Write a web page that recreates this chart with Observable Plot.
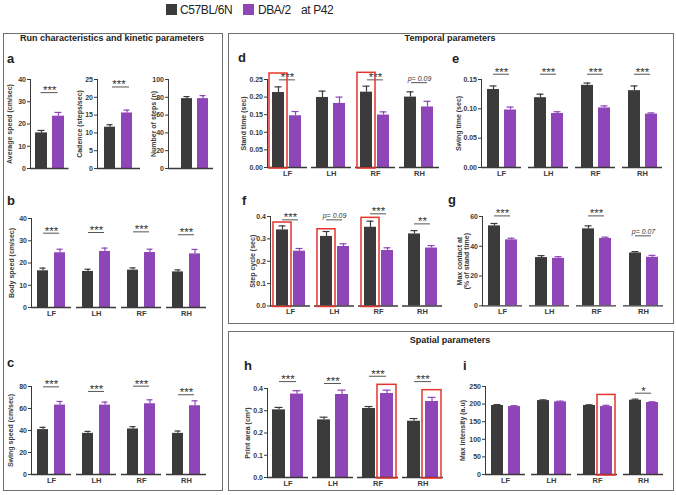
<!DOCTYPE html>
<html><head><meta charset="utf-8">
<script src="https://cdn.jsdelivr.net/npm/d3@7"></script>
<script src="https://cdn.jsdelivr.net/npm/@observablehq/plot@0.6"></script>
<style>
body{margin:0;background:#fff}
#page{position:relative;width:676px;height:495px;overflow:hidden;font-family:"Liberation Sans",Arial,sans-serif;color:#222;background:#fff}
.abs{position:absolute;white-space:nowrap;line-height:1}
.box{position:absolute;border:1.3px solid #707070;box-sizing:border-box}
.title{font-weight:bold;font-size:9px;transform:translateX(-50%)}
.letter{font-weight:bold;font-size:13px}
.sq{position:absolute;width:11px;height:11px}
.leg{font-size:12px;letter-spacing:-0.4px}
svg [aria-label="fx-axis tick label"]{font-size:7.5px}
</style>
</head><body><div id="page"></div>
<script>
// ---------- data ----------
const strains = ["C57BL/6N", "DBA/2"];
const legs = ["LF", "LH", "RF", "RH"];
const colors = ["#3b3b3b", "#8e45b7"];

// a: run characteristics
const avgSpeed = [16.0, 23.5];
const avgSpeedErr = [1.1, 1.7];
const avgSpeedSig = ["***"];
const avgSpeedSigY = [34.1];
const avgSpeedTicks = [0, 10, 20, 30, 40];

const cadence = [11.6, 15.6];
const cadenceErr = [0.7, 0.8];
const cadenceSig = ["***"];
const cadenceSigY = [22.9];
const cadenceTicks = [0, 5, 10, 15, 20, 25];

const numSteps = [78.5, 78.5];
const numStepsErr = [2.3, 3.4];
const numStepsSig = [];
const numStepsSigY = [];
const numStepsTicks = [0, 20, 40, 60, 80, 100];

// b: body speed
const bodySpeedB6 = [16.5, 16.2, 16.8, 16.0];
const bodySpeedB6Err = [1.2, 1.0, 1.0, 0.9];
const bodySpeedDBA = [24.6, 25.2, 24.7, 24.1];
const bodySpeedDBAErr = [1.6, 1.5, 1.5, 2.0];
const bodySpeedSig = ["***", "***", "***", "***"];
const bodySpeedSigY = [33.4, 33.7, 34.0, 32.7];
const bodySpeedTicks = [0, 10, 20, 30, 40];

// c: swing speed
const swingSpeedB6 = [40.8, 37.4, 41.4, 37.4];
const swingSpeedB6Err = [2.1, 1.8, 2.1, 2.1];
const swingSpeedDBA = [63.1, 63.1, 64.3, 62.5];
const swingSpeedDBAErr = [3.3, 2.7, 3.6, 4.5];
const swingSpeedSig = ["***", "***", "***", "***"];
const swingSpeedSigY = [79.7, 75.5, 80.3, 72.5];
const swingSpeedTicks = [0, 20, 40, 60, 80];

// d: stand time
const standTimeB6 = [0.213, 0.199, 0.214, 0.200];
const standTimeB6Err = [0.016, 0.018, 0.017, 0.015];
const standTimeDBA = [0.147, 0.182, 0.149, 0.172];
const standTimeDBAErr = [0.012, 0.018, 0.009, 0.016];
const standTimeSig = ["***", "", "***", "p= 0.09"];
const standTimeSigY = [0.249, null, 0.249, 0.241];
const standTimeBoxLeg = ["LF", "RF"];
const standTimeBoxStrain = ["C57BL/6N", "C57BL/6N"];
const standTimeBoxTop = [0.267, 0.269];
const standTimeTicks = [0, 0.05, 0.10, 0.15, 0.20, 0.25];

// e: swing time
const swingTimeB6 = [0.133, 0.119, 0.140, 0.131];
const swingTimeB6Err = [0.006, 0.006, 0.004, 0.008];
const swingTimeDBA = [0.098, 0.092, 0.1015, 0.091];
const swingTimeDBAErr = [0.005, 0.003, 0.0035, 0.002];
const swingTimeSig = ["***", "***", "***", "***"];
const swingTimeSigY = [0.159, 0.159, 0.159, 0.159];
const swingTimeTicks = [0, 0.05, 0.10, 0.15];

// f: step cycle
const stepCycleB6 = [0.340, 0.311, 0.352, 0.322];
const stepCycleB6Err = [0.018, 0.022, 0.027, 0.015];
const stepCycleDBA = [0.245, 0.266, 0.248, 0.259];
const stepCycleDBAErr = [0.012, 0.012, 0.012, 0.011];
const stepCycleSig = ["***", "p= 0.09", "***", "**"];
const stepCycleSigY = [0.385, 0.385, 0.412, 0.367];
const stepCycleBoxLeg = ["LF", "LH", "RF"];
const stepCycleBoxStrain = ["C57BL/6N", "C57BL/6N", "C57BL/6N"];
const stepCycleBoxTop = [0.373, 0.343, 0.394];
const stepCycleTicks = [0, 0.1, 0.2, 0.3, 0.4];

// g: max contact
const maxContactB6 = [53.7, 32.4, 51.7, 35.5];
const maxContactB6Err = [1.6, 1.3, 2.0, 0.9];
const maxContactDBA = [44.3, 31.9, 45.2, 32.6];
const maxContactDBAErr = [1.1, 1.1, 0.9, 1.3];
const maxContactSig = ["***", "", "***", "p= 0.07"];
const maxContactSigY = [60.4, null, 60.4, 47.0];
const maxContactTicks = [0, 20, 40, 60];

// h: print area
const printAreaB6 = [0.304, 0.259, 0.310, 0.253];
const printAreaB6Err = [0.011, 0.012, 0.009, 0.012];
const printAreaDBA = [0.375, 0.373, 0.3775, 0.3415];
const printAreaDBAErr = [0.015, 0.0195, 0.015, 0.0185];
const printAreaSig = ["***", "***", "***", "***"];
const printAreaSigY = [0.431, 0.4225, 0.455, 0.431];
const printAreaBoxLeg = ["RF", "RH"];
const printAreaBoxStrain = ["DBA/2", "DBA/2"];
const printAreaBoxTop = [0.4165, 0.3925];
const printAreaTicks = [0, 0.1, 0.2, 0.3, 0.4];

// i: max intensity
const maxIntensityB6 = [196, 210, 196, 211];
const maxIntensityB6Err = [2.5, 2, 2, 3];
const maxIntensityDBA = [193, 206.4, 193, 204.5];
const maxIntensityDBAErr = [2.5, 2, 3.5, 2];
const maxIntensitySig = ["", "", "", "*"];
const maxIntensitySigY = [null, null, null, 231];
const maxIntensityBoxLeg = ["RF"];
const maxIntensityBoxStrain = ["DBA/2"];
const maxIntensityBoxTop = [226];
const maxIntensityTicks = [0, 50, 100, 150, 200, 250];

// ---------- page furniture ----------
const page = document.getElementById("page");
function el(cls, html, style) {
  const d = document.createElement("div");
  d.className = cls; d.innerHTML = html; Object.assign(d.style, style);
  page.appendChild(d); return d;
}
el("box", "", {left: "3px", top: "33px", width: "220px", height: "458px"});
el("box", "", {left: "228px", top: "33px", width: "446px", height: "291px"});
el("box", "", {left: "228px", top: "331px", width: "446px", height: "160px"});
el("abs title", "Run characteristics and kinetic parameters", {left: "112px", top: "34px"});
el("abs title", "Temporal parameters", {left: "450px", top: "34px"});
el("abs title", "Spatial parameters", {left: "450px", top: "336px"});
// legend
el("sq", "", {left: "166px", top: "4px", background: colors[0]});
el("abs leg", strains[0], {left: "180px", top: "4px"});
el("sq", "", {left: "243px", top: "4px", background: colors[1]});
el("abs leg", strains[1], {left: "258px", top: "4px"});
el("abs leg", "at P42", {left: "301px", top: "4px"});
// panel letters
const letters = [["a", 7, 52], ["b", 7, 194], ["c", 7, 356], ["d", 238, 51], ["e", 452, 52],
                 ["f", 242, 194], ["g", 448, 193], ["h", 244, 359], ["i", 463, 359]];
letters.forEach(([t, x, y]) => el("abs letter", t, {left: x + "px", top: y + "px"}));

// ---------- plotting ----------
const axisColor = "#3a3a3a";
const red = "#e5352c";

function groupedRows(b6, b6e, dba, dbae) {
  return legs.flatMap((leg, i) => [
    {leg, strain: strains[0], v: b6[i], e: b6e[i]},
    {leg, strain: strains[1], v: dba[i], e: dbae[i]}
  ]);
}
function sigRows(keys, texts, ys) {
  return keys.map((leg, i) => ({leg, text: texts[i], y: ys[i]})).filter(d => d.text);
}
function boxRows(bl, bs, bt) {
  return bl.map((leg, i) => ({leg, strain: bs[i], top: bt[i]}));
}

function drawPanel(L, D) {
  const faceted = D.faceted;
  const width = L.marginLeft + (L.frameRight - L.frameLeft) + L.marginRight;
  const height = L.marginTop + (L.yBase - L.yTop) + L.marginBottom;
  const fxo = faceted ? {fx: "leg"} : {};
  const stars = D.sig.filter(d => d.text.startsWith("*"));
  const pvals = D.sig.filter(d => !d.text.startsWith("*"));
  const marks = [
    Plot.barY(D.rows, {...fxo, x: "strain", y: "v", fill: "strain"}),
    Plot.ruleX(D.rows, {...fxo, x: "strain", y1: "v", y2: d => d.v + d.e, stroke: "strain", strokeWidth: 1.2}),
    Plot.tickY(D.rows, {...fxo, x: "strain", y: d => d.v + d.e, stroke: "strain", strokeWidth: 1.2, insetLeft: 2.5, insetRight: 2.5}),
    Plot.ruleY([0], {stroke: axisColor, strokeWidth: 1.3}),
    Plot.ruleY(D.sig, {...fxo, y: "y", stroke: "#555", strokeWidth: 1, insetLeft: L.sigInsetL, insetRight: L.sigInsetR}),
    Plot.text(stars, {...fxo, y: "y", text: "text", lineAnchor: "bottom", dy: 1.5, fontSize: 11.5, fontWeight: "normal", fill: "#333"}),
    Plot.text(pvals, {...fxo, y: "y", text: "text", lineAnchor: "bottom", dy: -1.5, fontSize: 7, fontWeight: "normal", fontStyle: "italic", fill: "#333"}),
    Plot.barY(D.boxes, {...fxo, x: "strain", y1: () => 0, y2: "top", fill: "none", stroke: red, strokeWidth: 1.5, insetLeft: -3, insetRight: -3, insetBottom: -1})
  ];
  const opts = {
    width, height,
    marginLeft: L.marginLeft, marginRight: L.marginRight, marginTop: L.marginTop, marginBottom: L.marginBottom,
    style: {background: "transparent", overflow: "visible", fontFamily: "Liberation Sans, Arial, sans-serif",
            fontSize: "7px", fontWeight: "bold", color: axisColor},
    x: {domain: strains, paddingInner: L.xInner, paddingOuter: L.xOuter, align: L.align ?? 0.5, axis: null},
    y: {domain: [0, D.ticks[D.ticks.length - 1]], ticks: D.ticks, tickFormat: D.fmt, tickSize: 3, tickPadding: 1.5,
        line: true, label: D.ylabel, labelAnchor: "center", labelOffset: L.labelOffset + (D.ylabel.includes("\n") ? 7.5 : 3.5), labelArrow: false},
    color: {domain: strains, range: colors},
    marks
  };
  if (faceted) opts.fx = {domain: legs, paddingInner: L.fxPad, paddingOuter: 0, label: null, tickSize: 0, tickPadding: 3, axis: "bottom"};
  const svg = Plot.plot(opts);
  svg.style.position = "absolute";
  svg.style.left = (L.frameLeft - L.marginLeft) + "px";
  svg.style.top = (L.yTop - L.marginTop) + "px";
  page.appendChild(svg);
}

const base = {marginLeft: 34, marginRight: 6, marginTop: 26, marginBottom: 14, xInner: 0.3, xOuter: 0.27, sigInsetL: 12, sigInsetR: 12};
const simple = (vals, errs) => strains.map((s, i) => ({strain: s, v: vals[i], e: errs[i]}));
const simpleSig = (t, y) => t.map((text, i) => ({text, y: y[i]}));

// a
drawPanel({...base, marginBottom: 6, frameLeft: 29.5, frameRight: 68, yTop: 79, yBase: 168, xInner: 0.3, xOuter: 0.22, labelOffset: 19.5, sigInsetL: 10.5, sigInsetR: 11},
  {faceted: false, rows: simple(avgSpeed, avgSpeedErr), sig: simpleSig(avgSpeedSig, avgSpeedSigY), boxes: [], ticks: avgSpeedTicks, fmt: d3.format("d"), ylabel: "Average speed (cm/sec)"});
drawPanel({...base, marginBottom: 6, frameLeft: 97, frameRight: 140, yTop: 79, yBase: 168, xInner: 0.34, xOuter: 0.4, labelOffset: 17, sigInsetL: 15, sigInsetR: 11},
  {faceted: false, rows: simple(cadence, cadenceErr), sig: simpleSig(cadenceSig, cadenceSigY), boxes: [], ticks: cadenceTicks, fmt: d3.format("d"), ylabel: "Cadence (steps/sec)"});
drawPanel({...base, marginBottom: 6, frameLeft: 168, frameRight: 213, yTop: 79, yBase: 168, xInner: 0.3, xOuter: 0.5, align: 0.75, labelOffset: 13.5},
  {faceted: false, rows: simple(numSteps, numStepsErr), sig: simpleSig(numStepsSig, numStepsSigY), boxes: [], ticks: numStepsTicks, fmt: d3.format("d"), ylabel: "Number of steps (n)"});
// b
drawPanel({...base, frameLeft: 30, frameRight: 207, yTop: 218, yBase: 307, fxPad: 0.11, xInner: 0.33, xOuter: 0.28, labelOffset: 19},
  {faceted: true, rows: groupedRows(bodySpeedB6, bodySpeedB6Err, bodySpeedDBA, bodySpeedDBAErr), sig: sigRows(legs, bodySpeedSig, bodySpeedSigY), boxes: [], ticks: bodySpeedTicks, fmt: d3.format("d"), ylabel: "Body speed (cm/sec)"});
// c
drawPanel({...base, frameLeft: 30, frameRight: 207, yTop: 386, yBase: 474, fxPad: 0.11, xInner: 0.33, xOuter: 0.28, labelOffset: 20},
  {faceted: true, rows: groupedRows(swingSpeedB6, swingSpeedB6Err, swingSpeedDBA, swingSpeedDBAErr), sig: sigRows(legs, swingSpeedSig, swingSpeedSigY), boxes: [], ticks: swingSpeedTicks, fmt: d3.format("d"), ylabel: "Swing speed (cm/sec)"});
// d
drawPanel({...base, frameLeft: 264.5, frameRight: 440, yTop: 79, yBase: 167, fxPad: 0.08, xInner: 0.28, xOuter: 0.27, labelOffset: 23},
  {faceted: true, rows: groupedRows(standTimeB6, standTimeB6Err, standTimeDBA, standTimeDBAErr), sig: sigRows(legs, standTimeSig, standTimeSigY), boxes: boxRows(standTimeBoxLeg, standTimeBoxStrain, standTimeBoxTop), ticks: standTimeTicks, fmt: d3.format(".2f"), ylabel: "Stand time (sec)"});
// e
drawPanel({...base, frameLeft: 480, frameRight: 663, yTop: 79, yBase: 167, fxPad: 0.14, xInner: 0.3, xOuter: 0.27, labelOffset: 21.5},
  {faceted: true, rows: groupedRows(swingTimeB6, swingTimeB6Err, swingTimeDBA, swingTimeDBAErr), sig: sigRows(legs, swingTimeSig, swingTimeSigY), boxes: [], ticks: swingTimeTicks, fmt: d3.format(".2f"), ylabel: "Swing time (sec)"});
// f
drawPanel({...base, frameLeft: 269, frameRight: 443, yTop: 216, yBase: 305.5, fxPad: 0.08, xInner: 0.3, xOuter: 0.27, labelOffset: 16.5},
  {faceted: true, rows: groupedRows(stepCycleB6, stepCycleB6Err, stepCycleDBA, stepCycleDBAErr), sig: sigRows(legs, stepCycleSig, stepCycleSigY), boxes: boxRows(stepCycleBoxLeg, stepCycleBoxStrain, stepCycleBoxTop), ticks: stepCycleTicks, fmt: d3.format(".1f"), ylabel: "Step cycle (sec)"});
// g
drawPanel({...base, frameLeft: 481.5, frameRight: 663, yTop: 215.7, yBase: 305, fxPad: 0.14, xInner: 0.3, xOuter: 0.27, labelOffset: 18},
  {faceted: true, rows: groupedRows(maxContactB6, maxContactB6Err, maxContactDBA, maxContactDBAErr), sig: sigRows(legs, maxContactSig, maxContactSigY), boxes: [], ticks: maxContactTicks, fmt: d3.format("d"), ylabel: "Max contact at\n(% of stand time)"});
// h
drawPanel({...base, frameLeft: 264.5, frameRight: 443, yTop: 387.7, yBase: 476.7, fxPad: 0.1, xInner: 0.3, xOuter: 0.27, labelOffset: 18.5},
  {faceted: true, rows: groupedRows(printAreaB6, printAreaB6Err, printAreaDBA, printAreaDBAErr), sig: sigRows(legs, printAreaSig, printAreaSigY), boxes: boxRows(printAreaBoxLeg, printAreaBoxStrain, printAreaBoxTop), ticks: printAreaTicks, fmt: d3.format(".1f"), ylabel: "Print area (cm²)"});
// i
drawPanel({...base, frameLeft: 484, frameRight: 663, yTop: 386, yBase: 474, fxPad: 0.14, xInner: 0.3, xOuter: 0.27, labelOffset: 22},
  {faceted: true, rows: groupedRows(maxIntensityB6, maxIntensityB6Err, maxIntensityDBA, maxIntensityDBAErr), sig: sigRows(legs, maxIntensitySig, maxIntensitySigY), boxes: boxRows(maxIntensityBoxLeg, maxIntensityBoxStrain, maxIntensityBoxTop), ticks: maxIntensityTicks, fmt: d3.format("d"), ylabel: "Max intensity (a.u)"});
</script></body></html>
